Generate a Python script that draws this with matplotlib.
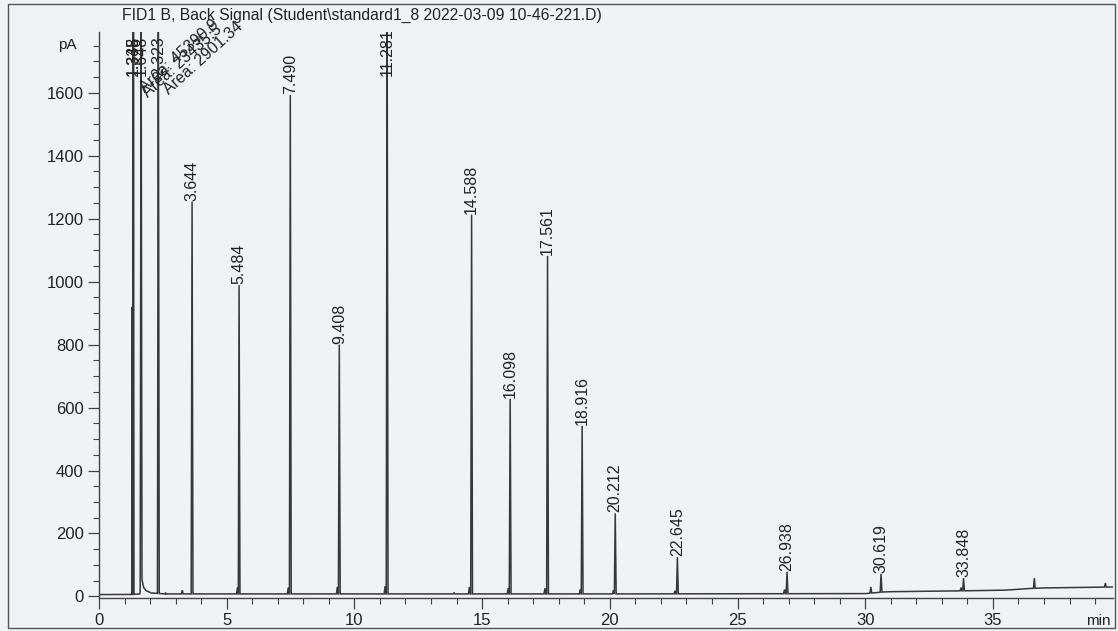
import matplotlib
matplotlib.use("Agg")
import matplotlib.pyplot as plt
from matplotlib.patches import Rectangle
from matplotlib.ticker import MultipleLocator
import numpy as np

plt.rcParams["font.family"] = ["Liberation Sans", "DejaVu Sans"]

# --- chromatogram data (retention time in min, signal in pA) ---
# labelled peaks: retention time, apex signal (values above the scale run off the top)
peak_times = [1.335, 1.348, 1.648, 2.323, 3.644, 5.484, 7.490, 9.408, 11.281,
              14.588, 16.098, 17.561, 18.916, 20.212, 22.645, 26.938, 30.619, 33.848]
peak_heights = [1900, 1900, 1900, 1900, 1254, 989, 1593, 800, 1900,
                1213, 628, 1082, 542, 264, 125, 78, 72, 58]
peak_labels = ["1.335", "1.348", "1.648", "2.323", "3.644", "5.484", "7.490", "9.408",
               "11.281", "14.588", "16.098", "17.561", "18.916", "20.212", "22.645",
               "26.938", "30.619", "33.848"]

# small unlabelled peaks and shoulders: retention time, apex signal
minor_times = [1.300, 2.60, 3.26, 5.42, 7.41, 9.33, 11.20, 13.90, 14.50, 16.02,
               17.46, 18.84, 20.14, 22.55, 26.84, 30.22, 33.75, 36.62, 39.40]
minor_heights = [920, 12, 20, 28, 28, 30, 32, 12, 30, 26,
                 26, 22, 20, 18, 22, 30, 28, 58, 42]

# baseline level along the run
base_times = [0.0, 1.25, 1.60, 1.68, 1.75, 1.85, 2.05, 2.60, 10.0, 20.0, 30.0,
              30.7, 31.0, 34.0, 35.5, 36.4, 37.0, 39.7]
base_levels = [6, 6, 8, 55, 28, 18, 11, 8, 8, 8, 9,
               14, 15, 18, 20, 25, 27, 30]

# area annotations on the first peaks
area_texts = ["Area: 45390.9", "Area: 23435.5", "Area: 2901.34"]
area_peaks = [1.648, 2.323, 2.323]

title = r"FID1 B, Back Signal (Student\standard1_8 2022-03-09 10-46-221.D)"

# --- build the trace as a polyline of baseline knots and peak apexes ---
def baseline_at(t):
    return np.interp(t, base_times, base_levels)

verts = list(zip(base_times, base_levels))
half_w = 0.035
for t, h in list(zip(peak_times, peak_heights)) + list(zip(minor_times, minor_heights)):
    verts.append((t - half_w, baseline_at(t - half_w)))
    verts.append((t, h))
    verts.append((t + half_w, baseline_at(t + half_w)))
verts.sort(key=lambda p: p[0])
tx = np.array([v[0] for v in verts])
ty = np.array([v[1] for v in verts])

# --- figure ---
W, H = 1118, 631
fig = plt.figure(figsize=(W / 100, H / 100), dpi=100)
bg = "#f1f2f4"
ink = "#222222"
fig.patch.set_facecolor(bg)

ax_left, ax_right = 99, 1113
ax_top, ax_bottom = 32, 598
ax = fig.add_axes([ax_left / W, 1 - ax_bottom / H,
                   (ax_right - ax_left) / W, (ax_bottom - ax_top) / H])
ax.set_facecolor(bg)
ax.set_xlim(0, 39.7)
ax.set_ylim(-5, 1793)

ax.plot(tx, ty, color="#383838", lw=1.1, solid_joinstyle="miter")

for sp in ["top", "right"]:
    ax.spines[sp].set_visible(False)
for sp in ["left", "bottom"]:
    ax.spines[sp].set_color("#444444")
    ax.spines[sp].set_linewidth(1.0)

ax.set_yticks(range(0, 1601, 200))
ax.yaxis.set_minor_locator(MultipleLocator(50))
ax.set_xticks(range(0, 36, 5))
ax.xaxis.set_minor_locator(MultipleLocator(1))
ax.tick_params(axis="both", which="major", length=8, width=0.9, color="#444444",
               labelsize=12, labelcolor=ink, pad=3)
ax.tick_params(axis="both", which="minor", length=4, width=0.8, color="#444444")

ax.text(-0.022, 0.99, "pA", transform=ax.transAxes, ha="right", va="top",
        fontsize=11, color=ink)
ax.text(0.998, -0.028, "min", transform=ax.transAxes, ha="right", va="top",
        fontsize=11, color=ink)

# peak retention-time labels above each apex (off-scale peaks get them at the top)
label_cap = 1650
for t, h, lab in zip(peak_times, peak_heights, peak_labels):
    ax.text(t, min(h, label_cap) + 3, lab, rotation=90, ha="center", va="bottom",
            fontsize=11.5, color=ink, clip_on=False)

# area annotations, written diagonally beside the off-scale peaks
area_offsets = [(0.16, 1598), (-0.42, 1582), (0.42, 1592)]
for txt, t, (dx, y) in zip(area_texts, area_peaks, area_offsets):
    ax.text(t + dx, y, txt, rotation=42, rotation_mode="anchor", ha="left",
            va="baseline", fontsize=11.5, color=ink, clip_on=False)

fig.text(122 / W, 1 - 15 / H, title, ha="left", va="center", fontsize=11.3, color=ink)

# printed frame around the plot
fig.patches.append(Rectangle((8 / W, 1 - 628 / H), (1115 - 8) / W, (628 - 4) / H,
                             transform=fig.transFigure, fill=False,
                             edgecolor="#555555", linewidth=1.0))

fig.savefig("out.png", dpi=100, facecolor=bg)
